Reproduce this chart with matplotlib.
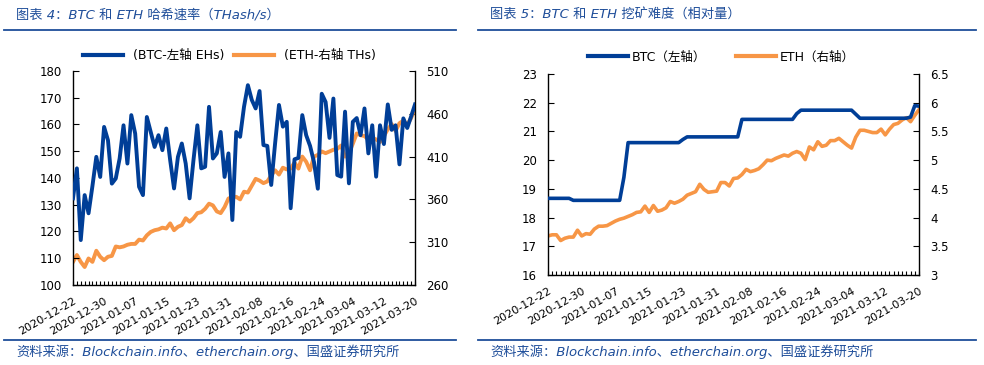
import numpy as np
import matplotlib
matplotlib.use("Agg")
import matplotlib.pyplot as plt
from matplotlib.lines import Line2D

plt.rcParams['font.family'] = ['DejaVu Sans', 'Noto Sans CJK SC']

# ---------------- data ----------------
dates = ["2020-12-22", "2020-12-30", "2021-01-07", "2021-01-15", "2021-01-23", "2021-01-31",
         "2021-02-08", "2021-02-16", "2021-02-24", "2021-03-04", "2021-03-12", "2021-03-20"]
n_days = 89

btc_hash = [132.4, 143.6, 116.8, 133.6, 126.8, 137.0, 147.9, 140.4, 159.1, 154.1,
            137.9, 139.8, 147.3, 159.7, 145.4, 163.5, 156.6, 136.7, 133.6, 162.8,
            157.2, 151.6, 156.0, 150.4, 158.5, 146.7, 136.1, 147.9, 152.9, 145.4,
            132.4, 146.7, 159.7, 143.6, 144.2, 166.6, 147.3, 149.2, 157.2, 140.4,
            149.2, 124.3, 157.2, 155.4, 166.6, 174.7, 169.2, 166.0, 172.5, 152.3,
            152.0, 137.4, 152.9, 167.3, 159.2, 161.0, 128.7, 147.0, 147.5, 163.5,
            156.0, 152.0, 146.0, 136.0, 171.5, 168.4, 155.0, 169.7, 141.1, 140.5,
            164.8, 138.0, 161.0, 162.4, 156.0, 166.0, 149.2, 159.7, 140.5, 159.7,
            152.7, 167.5, 158.0, 159.7, 145.1, 162.3, 158.7, 163.0, 167.5]

eth_hash = [287, 295, 287, 281, 291, 287, 300, 293, 289, 293,
            294, 305, 304, 305, 307, 308, 308, 313, 312, 318,
            322, 324, 325, 327, 326, 332, 324, 328, 330, 338,
            334, 338, 344, 345, 349, 355, 353, 346, 344, 351,
            361, 363, 363, 360, 369, 368, 376, 384, 382, 379,
            381, 388, 394, 389, 397, 395, 396, 403, 396, 410,
            404, 394, 410, 412, 416, 414, 416, 418, 419, 423,
            410, 414, 425, 437, 435, 434, 430, 432, 430, 427,
            434, 442, 448, 440, 449, 452, 447, 455, 466]

btc_diff = [18.67, 18.67, 18.67, 18.67, 18.67, 18.67, 18.60, 18.60, 18.60, 18.60,
            18.60, 18.60, 18.60, 18.60, 18.60, 18.60, 18.60, 18.60, 19.40, 20.61,
            20.61, 20.61, 20.61, 20.61, 20.61, 20.61, 20.61, 20.61, 20.61, 20.61,
            20.61, 20.61, 20.72, 20.81, 20.81, 20.81, 20.81, 20.81, 20.81, 20.81,
            20.81, 20.81, 20.81, 20.81, 20.81, 20.81, 21.42, 21.42, 21.42, 21.42,
            21.42, 21.42, 21.42, 21.42, 21.42, 21.42, 21.42, 21.42, 21.42, 21.62,
            21.74, 21.74, 21.74, 21.74, 21.74, 21.74, 21.74, 21.74, 21.74, 21.74,
            21.74, 21.74, 21.74, 21.60, 21.46, 21.46, 21.46, 21.46, 21.46, 21.46,
            21.46, 21.46, 21.46, 21.46, 21.46, 21.46, 21.50, 21.90, 21.88]

eth_diff = [3.68, 3.70, 3.70, 3.60, 3.64, 3.66, 3.66, 3.78, 3.68, 3.72,
            3.71, 3.80, 3.85, 3.85, 3.86, 3.90, 3.94, 3.97, 3.99, 4.02,
            4.05, 4.09, 4.10, 4.20, 4.09, 4.21, 4.11, 4.13, 4.17, 4.28,
            4.25, 4.28, 4.32, 4.39, 4.42, 4.45, 4.58, 4.49, 4.44, 4.45,
            4.46, 4.61, 4.61, 4.55, 4.68, 4.69, 4.75, 4.84, 4.80, 4.82,
            4.85, 4.92, 5.00, 4.99, 5.03, 5.06, 5.09, 5.07, 5.12, 5.15,
            5.12, 5.01, 5.23, 5.18, 5.32, 5.24, 5.26, 5.34, 5.34, 5.38,
            5.32, 5.26, 5.21, 5.40, 5.52, 5.52, 5.50, 5.48, 5.48, 5.54,
            5.44, 5.54, 5.62, 5.64, 5.70, 5.74, 5.67, 5.78, 5.88]

title_left = "图表 4：BTC 和 ETH 哈希速率（THash/s）"
title_right = "图表 5：BTC 和 ETH 挖矿难度（相对量）"
source = "资料来源：Blockchain.info、etherchain.org、国盛证券研究所"
leg_left = ["(BTC-左轴 EHs)", "(ETH-右轴 THs)"]
leg_right = ["BTC（左轴）", "ETH（右轴）"]

# ---------------- style ----------------
BLUE = "#003E97"
ORANGE = "#F79646"
HEAD = "#1F4E9A"
W, H = 984, 365
fig = plt.figure(figsize=(W / 100, H / 100), dpi=100)


def fx(px):
    return px / W


def fy(py):
    return 1 - py / H


def make_axes(l, t, r, b):
    return fig.add_axes([fx(l), fy(b), fx(r - l), (b - t) / H])


x = np.arange(n_days)
major = np.arange(0, n_days, 8)


def style(ax, ax2):
    ax.set_xlim(0, n_days - 1)
    for a in (ax, ax2):
        a.spines['top'].set_visible(False)
        for s in a.spines.values():
            s.set_linewidth(1.0)
            s.set_color("black")
    ax2.spines['left'].set_visible(False)
    ax2.spines['bottom'].set_visible(False)
    ax.spines['right'].set_visible(False)
    ax.set_xticks(major)
    ax.set_xticklabels(dates, rotation=30, ha='right', rotation_mode='anchor', fontsize=8)
    ax.set_xticks(x, minor=True)
    ax.tick_params(axis='x', which='both', direction='in', length=3, width=0.8, pad=8)
    ax.tick_params(axis='y', direction='in', length=4, width=0.8, labelsize=8.5, pad=8)
    ax2.tick_params(axis='y', direction='in', length=4, width=0.8, labelsize=8.5, pad=8)


# ---------------- left chart ----------------
axL = make_axes(73, 71, 415, 285)
axL2 = axL.twinx()
axL.plot(x, btc_hash, color=BLUE, lw=2.8, solid_joinstyle='round', zorder=3)
axL2.plot(x, eth_hash, color=ORANGE, lw=2.8, solid_joinstyle='round', zorder=2)
axL.set_zorder(axL2.get_zorder() + 1)
axL.patch.set_visible(False)
axL.set_ylim(100, 180)
axL.set_yticks(np.arange(100, 181, 10))
axL2.set_ylim(260, 510)
axL2.set_yticks(np.arange(260, 511, 50))
style(axL, axL2)

handles = [Line2D([], [], color=BLUE, lw=3), Line2D([], [], color=ORANGE, lw=3)]
fig.legend(handles, leg_left, loc='center left', bbox_to_anchor=(fx(83), fy(56)),
           ncol=2, frameon=False, fontsize=9, handlelength=3.2, handletextpad=0.8,
           columnspacing=0.8, borderpad=0, borderaxespad=0)

# ---------------- right chart ----------------
axR = make_axes(548, 74, 919, 275)
axR2 = axR.twinx()
axR.plot(x, btc_diff, color=BLUE, lw=2.6, solid_joinstyle='round', zorder=3)
axR2.plot(x, eth_diff, color=ORANGE, lw=2.6, solid_joinstyle='round', zorder=2)
axR.set_zorder(axR2.get_zorder() + 1)
axR.patch.set_visible(False)
axR.set_ylim(16, 23)
axR.set_yticks(np.arange(16, 24, 1))
axR2.set_ylim(3, 6.5)
axR2.set_yticks(np.arange(3, 6.51, 0.5))
axR2.set_yticklabels([f"{v:g}" for v in np.arange(3, 6.51, 0.5)])
style(axR, axR2)

fig.legend(handles, leg_right, loc='center left', bbox_to_anchor=(fx(588), fy(57)),
           ncol=2, frameon=False, fontsize=9, handlelength=3.2, handletextpad=0.3,
           columnspacing=2.4, borderpad=0, borderaxespad=0)

# ---------------- titles, rules, sources ----------------
for (x0, x1, xt, title) in [(4, 456, 16, title_left), (478, 976, 490, title_right)]:
    fig.add_artist(Line2D([fx(x0), fx(x1)], [fy(29.5), fy(29.5)], color=HEAD, lw=1.3))
    fig.add_artist(Line2D([fx(x0), fx(x1)], [fy(340), fy(340)], color=HEAD, lw=1.3))
    fig.text(fx(xt), fy(15), title, color=HEAD, fontsize=9.5, style='italic',
             va='center', ha='left')
    fig.text(fx(xt), fy(352), source, color=HEAD, fontsize=9.5, style='italic',
             va='center', ha='left')

fig.savefig("out.png", dpi=100)
